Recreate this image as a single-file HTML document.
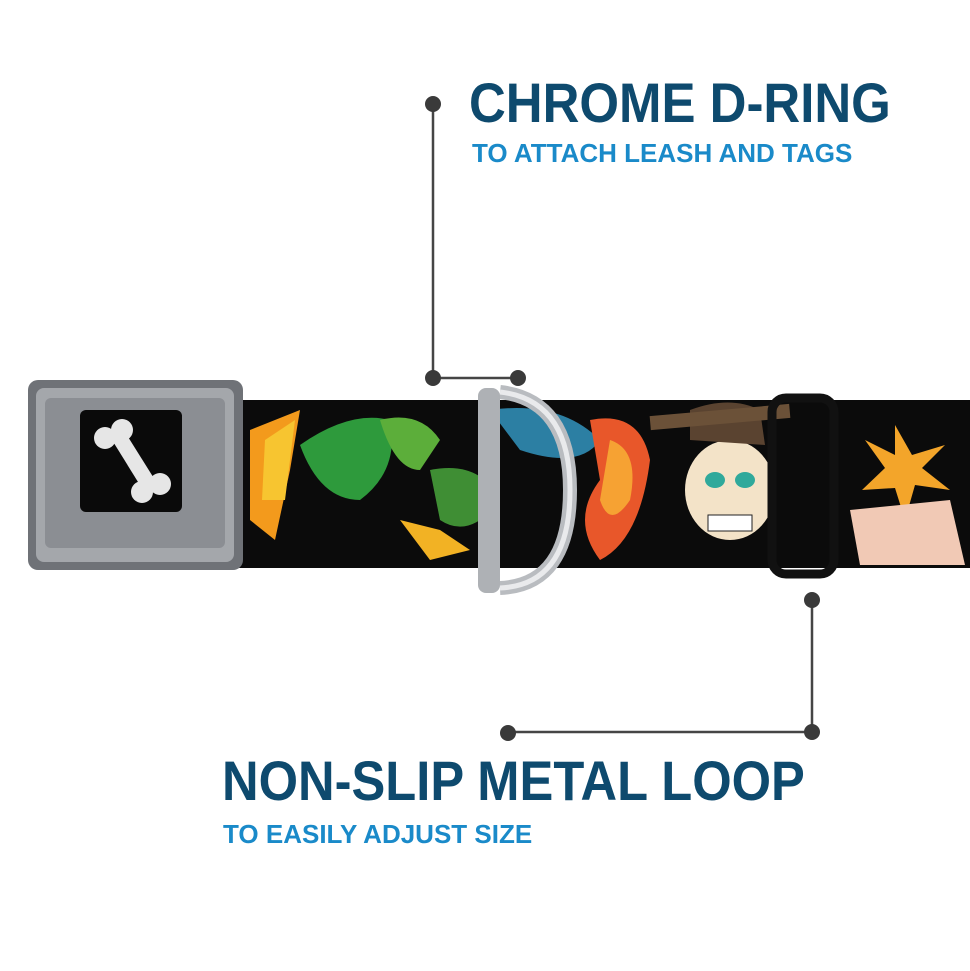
<!DOCTYPE html>
<html><head><meta charset="utf-8"><style>
body{margin:0;width:970px;height:971px;background:#fff;position:relative;overflow:hidden;font-family:"Liberation Sans",sans-serif}
.t{position:absolute;font-weight:bold;white-space:nowrap;line-height:1;transform-origin:0 0}
</style></head><body>
<svg width="970" height="971" style="position:absolute;left:0;top:0">
<rect x="230" y="400" width="740" height="168" fill="#0b0b0b"/>
<path d="M250 430 L300 410 L290 470 L275 540 L250 520Z" fill="#f39a1c"/>
<path d="M265 440 L295 420 L285 500 L262 500Z" fill="#f7c530"/>
<path d="M300 445 Q350 410 390 420 Q400 470 360 500 Q320 500 300 445Z" fill="#2e9a3c"/>
<path d="M380 420 Q420 410 440 440 L420 470 Q395 470 380 420Z" fill="#5cae3a"/>
<path d="M430 470 Q480 460 500 500 Q470 540 440 520Z" fill="#3f8e34"/>
<path d="M400 520 L430 560 L470 550 L440 530Z" fill="#f2b224"/>
<path d="M490 410 Q560 400 600 440 Q580 470 520 450Z" fill="#2c7fa3"/>
<path d="M590 420 Q640 410 650 460 Q640 540 600 560 Q570 520 600 480Z" fill="#e8572a"/>
<path d="M610 440 Q640 450 630 500 Q610 530 600 500Z" fill="#f6a233"/>
<ellipse cx="730" cy="490" rx="45" ry="50" fill="#f3e3c8"/>
<path d="M690 440 L690 410 Q730 395 760 410 L765 445Z" fill="#5a4330"/>
<rect x="650" y="410" width="140" height="14" fill="#6b5138" transform="rotate(-5 720 417)"/>
<ellipse cx="715" cy="480" rx="10" ry="8" fill="#2fa99b"/><ellipse cx="745" cy="480" rx="10" ry="8" fill="#2fa99b"/>
<rect x="708" y="515" width="44" height="16" fill="#fff" stroke="#222"/>
<path d="M895 425 L912 455 L945 445 L922 468 L950 490 L915 485 L905 520 L895 488 L862 490 L885 468 L865 440 L895 455Z" fill="#f3a52a"/>
<path d="M850 510 L950 500 L965 565 L860 565Z" fill="#f1c9b5"/>
<rect x="772" y="398" width="62" height="176" rx="14" fill="none" stroke="#111" stroke-width="9"/>
<path d="M500 392 Q570 400 570 490 Q570 585 500 588" fill="none" stroke="#b9bcc0" stroke-width="14"/>
<path d="M500 392 Q570 400 570 490 Q570 585 500 588" fill="none" stroke="#e9eaec" stroke-width="5"/>
<rect x="478" y="388" width="22" height="205" rx="8" fill="#aeb1b5"/>
<rect x="28" y="380" width="215" height="190" rx="10" fill="#6f7277"/>
<rect x="36" y="388" width="198" height="174" rx="8" fill="#a4a7ab"/>
<rect x="45" y="398" width="180" height="150" rx="6" fill="#8b8e93"/>
<rect x="80" y="410" width="102" height="102" rx="6" fill="#0a0a0a"/>
<g fill="#e6e6e6">
<circle cx="105" cy="438" r="11"/><circle cx="122" cy="430" r="11"/>
<circle cx="142" cy="492" r="11"/><circle cx="160" cy="484" r="11"/>
<path d="M112 440 L125 432 L155 480 L143 490Z"/>
</g>
<g stroke="#454545" stroke-width="2.5" fill="none">
<polyline points="433,104 433,378 518,378"/>
<polyline points="812,600 812,732 508,732"/>
</g>
<g fill="#3a3a3a">
<circle cx="433" cy="104" r="8"/><circle cx="433" cy="378" r="8"/><circle cx="518" cy="378" r="8"/>
<circle cx="812" cy="600" r="8"/><circle cx="812" cy="732" r="8"/><circle cx="508" cy="733" r="8"/>
</g>
</svg>
<div class="t" style="left:469px;top:75px;font-size:56px;color:#0e4a6e;transform:scaleX(0.91)">CHROME D-RING</div>
<div class="t" style="left:472px;top:140px;font-size:26px;color:#1a8ac9">TO ATTACH LEASH AND TAGS</div>
<div class="t" style="left:222px;top:753px;font-size:56px;color:#0e4a6e;transform:scaleX(0.905)">NON-SLIP METAL LOOP</div>
<div class="t" style="left:223px;top:821px;font-size:26px;color:#1a8ac9">TO EASILY ADJUST SIZE</div>
</body></html>
